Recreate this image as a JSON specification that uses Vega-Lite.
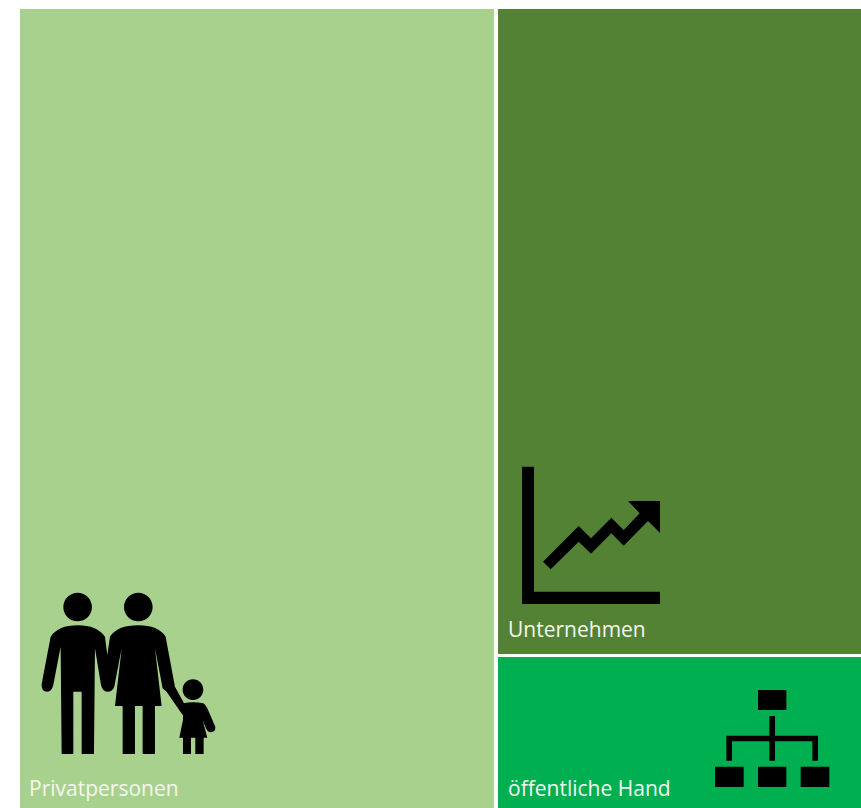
{
  "$schema": "https://vega.github.io/schema/vega-lite/v6.json",
  "width": 861,
  "height": 808,
  "padding": 0,
  "autosize": {"type": "none"},
  "background": "white",
  "config": {"view": {"stroke": null}},
  "data": {"values": [
    {"name": "Privatpersonen", "x0": 0, "x1": 56.36, "y0": 0, "y1": 100, "label_x": 1.07, "label_y": 98.5, "icon_x": 12.68, "icon_y": 83.15},
    {"name": "Unternehmen", "x0": 56.84, "x1": 100, "y0": 0, "y1": 80.73, "label_x": 58.03, "label_y": 78.6, "icon_x": 68.73, "icon_y": 65.62},
    {"name": "öffentliche Hand", "x0": 56.84, "x1": 100, "y0": 81.1, "y1": 100, "label_x": 58.03, "label_y": 98.5, "icon_x": 89.42, "icon_y": 91.28}
  ]},
  "layer": [
    {
      "mark": {"type": "rect"},
      "encoding": {
        "x": {"field": "x0", "type": "quantitative", "scale": {"domain": [0, 100], "range": [20, 861], "nice": false, "zero": false}, "axis": null},
        "x2": {"field": "x1"},
        "y": {"field": "y0", "type": "quantitative", "scale": {"domain": [0, 100], "range": [9, 808], "nice": false, "zero": false}, "axis": null},
        "y2": {"field": "y1"},
        "color": {"field": "name", "type": "nominal", "legend": null, "scale": {"domain": ["Privatpersonen", "Unternehmen", "öffentliche Hand"], "range": ["#A9D18E", "#548235", "#00B050"]}}
      }
    },
    {
      "transform": [{"filter": "datum.name === 'Privatpersonen'"}],
      "mark": {"type": "point", "filled": true, "opacity": 1, "color": "#000000", "size": 0.4444, "clip": false,
        "shape": "M-190 -199a43 43 0 1 0 86 0a43 43 0 1 0 -86 0ZM-8 -199a43 43 0 1 0 86 0a43 43 0 1 0 -86 0ZM-228 -110Q-205 -144 -147 -144Q-89 -144 -65 -110L-58 -55L-37 35Q-40 55 -58 55Q-72 55 -77 35L-95 -75L-98 242L-135 242L-135 55L-160 55L-160 242L-195 242L-198 -80L-220 35Q-225 55 -238 55Q-257 55 -255 32ZM-50 -110Q-28 -144 35 -144Q95 -144 117 -110L145 40L175 95L168 125L120 55L108 45L85 -75L105 98L85 98L85 242L48 242L48 98L25 98L25 242L-12 242L-12 98L-35 98L-15 -75L-37 40Q-42 55 -58 55L-75 35L-58 -55ZM168 49a31 31 0 1 0 62 0a31 31 0 1 0 -62 0ZM170 90Q199 84 230 90Q238 95 242 105L266 160Q268 175 252 177Q243 177 238 165L228 140L242 193L231 193L231 242L206 242L206 193L193 193L193 242L169 242L169 193L158 193L169 140Z"},
      "encoding": {
        "x": {"field": "icon_x", "type": "quantitative"},
        "y": {"field": "icon_y", "type": "quantitative"}
      }
    },
    {
      "transform": [{"filter": "datum.name === 'Unternehmen'"}],
      "mark": {"type": "point", "filled": true, "opacity": 1, "color": "#000000", "size": 0.4444, "clip": false,
        "shape": "M-228 -200L-192 -200L-192 175L186 175L186 212L-228 212ZM-165 85L-58 -22L-21 15L40 -47L77 -10L125 -60L90 -97L186 -97L186 -1L150 -37L77 37L40 0L-21 61L-58 25L-142 108Z"},
      "encoding": {
        "x": {"field": "icon_x", "type": "quantitative"},
        "y": {"field": "icon_y", "type": "quantitative"}
      }
    },
    {
      "transform": [{"filter": "datum.name === 'öffentliche Hand'"}],
      "mark": {"type": "point", "filled": true, "opacity": 1, "color": "#000000", "size": 0.4444, "clip": false,
        "shape": "M-42 -145L43 -145L43 -85L-42 -85ZM-171 85L-85 85L-85 146L-171 146ZM-42 85L43 85L43 146L-42 146ZM86 85L172 85L172 146L86 146ZM-8 -67L9 -67L9 67L-8 67ZM-137 -8L138 -8L138 9L-137 9ZM-137 -8L-120 -8L-120 67L-137 67ZM121 -8L138 -8L138 67L121 67Z"},
      "encoding": {
        "x": {"field": "icon_x", "type": "quantitative"},
        "y": {"field": "icon_y", "type": "quantitative"}
      }
    },
    {
      "mark": {"type": "text", "align": "left", "baseline": "alphabetic", "color": "#F2F7EE", "font": "Open Sans", "fontSize": 21},
      "encoding": {
        "x": {"field": "label_x", "type": "quantitative"},
        "y": {"field": "label_y", "type": "quantitative"},
        "text": {"field": "name", "type": "nominal"}
      }
    }
  ]
}
